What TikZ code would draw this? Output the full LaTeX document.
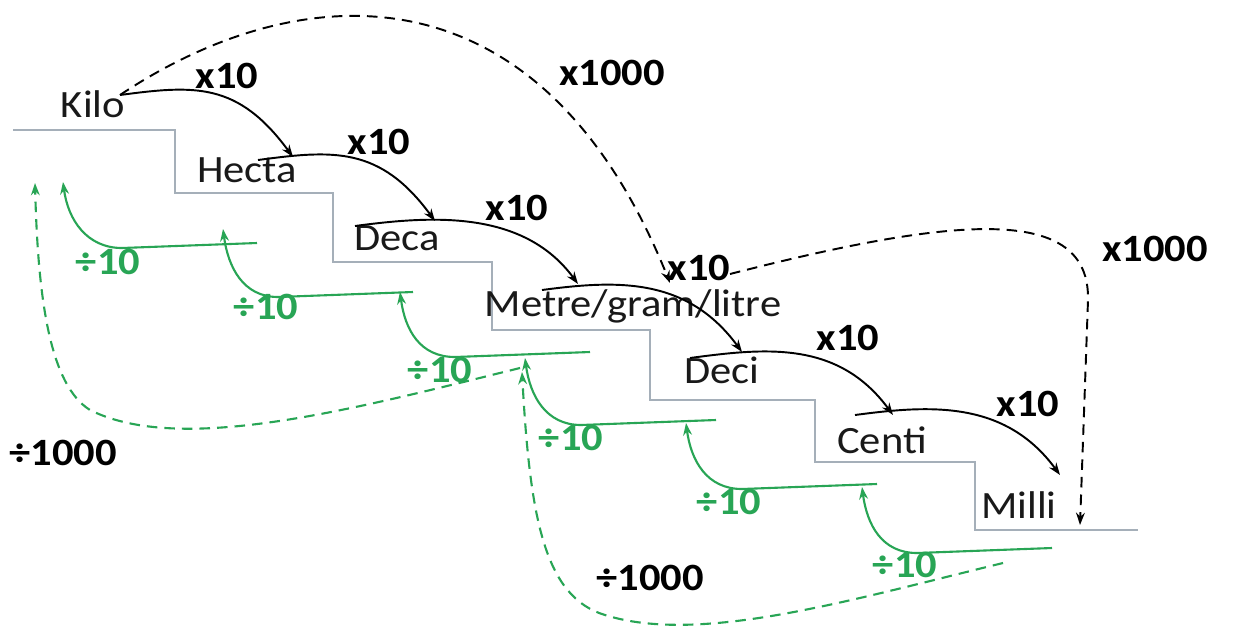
\documentclass[tikz,border=0pt]{standalone}
\usepackage{fontspec}
\setmainfont{Carlito}[FakeStretch=1.1]
\usetikzlibrary{arrows.meta,positioning,calc}
\definecolor{grn}{RGB}{40,165,85}
\definecolor{stairc}{RGB}{165,175,185}

\begin{document}
\begin{tikzpicture}[x=0.02cm,y=-0.02cm,
    unit/.style={font=\fontsize{22}{24}\selectfont, text=black!90},
    mul/.style={font=\fontsize{22}{24}\selectfont\bfseries},
    dvd/.style={mul, text=grn},
    tenarc/.style={to path={.. controls +(75,-10) and +(-55,-75) .. (\tikztotarget)}},
    tenback/.style={to path={-- ++(-135,5) .. controls +(-35,0) and +(5,38) .. (\tikztotarget)}},
    blk/.style={draw=black, line width=1.1pt, -{Stealth[length=7pt,width=5pt]}},
    blkd/.style={blk, dash pattern=on 6pt off 4pt},
    grl/.style={draw=grn, line width=1.2pt, -{Stealth[length=7pt,width=5pt]}},
    grd/.style={grl, dash pattern=on 6pt off 4pt}]
    \useasboundingbox[fill=white] (0,0) rectangle (1237,633);

    % stairs
    \draw[stairc, line width=0.9pt] (13,130) -| (175,193) -| (333,262) -| (492,330)
        -| (650,400) -| (815,462) -| (975,530) -- (1138,530);

    % units
    \node[unit] (Kilo) at (93,104) {Kilo};
    \node[unit] (Hecta) at (247,170) {Hecta};
    \node[unit] (Deca) at (397,238) {Deca};
    \node[unit] (Metre) at (633,306) {Metre/gram/litre};
    \node[unit] (Deci) at (722,370) {Deci};
    \node[unit] (Centi) at (882,440) {Centi};
    \node[unit] (Milli) at (1019,505) {Milli};

    % labels
    \node[mul] (x1) at (227,76) {x10};
    \node[mul] (x2) at (379,142) {x10};
    \node[mul] (x3) at (517,208) {x10};
    \node[mul] (x4) at (699,268) {x10};
    \node[mul] (x5) at (848,338) {x10};
    \node[mul] (x6) at (1028,404) {x10};
    \node[mul] (xk1) at (612,73) {x1000};
    \node[mul] (xk2) at (1155,249) {x1000};
    \node[dvd] (q1) at (108,262) {÷10};
    \node[dvd] (q2) at (266,307) {÷10};
    \node[dvd] (q3) at (440,370) {÷10};
    \node[dvd] (q4) at (571,438) {÷10};
    \node[dvd] (q5) at (729,502) {÷10};
    \node[dvd] (q6) at (905,565) {÷10};
    \node[mul] (qk1) at (63,453) {÷1000};
    \node[mul] (qk2) at (650,578) {÷1000};

    % arc ends
    \coordinate (k1) at (120,95);
    \coordinate (h0) at (293,157); \coordinate (h1) at (258,160);
    \coordinate (d0) at (435,221); \coordinate (d1) at (355,226);
    \coordinate (m0) at (578,284); \coordinate (m1) at (542,290); \coordinate (m2) at (670,283);
    \coordinate (e0) at (742,352); \coordinate (e1) at (690,358);
    \coordinate (c0) at (893,415); \coordinate (c1) at (855,415);
    \coordinate (l0) at (1060,475); \coordinate (l2) at (1080,525);
    \coordinate (s0) at (730,274); \coordinate (s1) at (1088,300);

    \draw[blk] (k1) to[tenarc] (h0);
    \draw[blk] (h1) to[tenarc] (d0);
    \draw[blk] (d1) to[tenarc] (m0);
    \draw[blk] (m1) to[tenarc] (e0);
    \draw[blk] (e1) to[tenarc] (c0);
    \draw[blk] (c1) to[tenarc] (l0);
    \draw[blkd] (k1) .. controls (300,-25) and (540,-40) .. (m2);
    \draw[blkd] (s0) .. controls (960,215) and (1090,205) .. (s1) -- (l2);

    % green ends
    \coordinate (a1r) at (257,243); \coordinate (a1t) at (63,182);
    \coordinate (a2r) at (413,292); \coordinate (a2t) at (223,229);
    \coordinate (a3r) at (590,352); \coordinate (a3t) at (400,292);
    \coordinate (a4r) at (716,420); \coordinate (a4t) at (525,358);
    \coordinate (a5r) at (877,484); \coordinate (a5t) at (686,423);
    \coordinate (a6r) at (1052,548); \coordinate (a6t) at (862,487);
    \coordinate (g0) at (520,368); \coordinate (g1) at (35,183); \coordinate (g2) at (90,410);
    \coordinate (r0) at (1003,563); \coordinate (r1) at (522,372); \coordinate (r2) at (605,615);

    \draw[grl] (a1r) to[tenback] (a1t);
    \draw[grl] (a2r) to[tenback] (a2t);
    \draw[grl] (a3r) to[tenback] (a3t);
    \draw[grl] (a4r) to[tenback] (a4t);
    \draw[grl] (a5r) to[tenback] (a5t);
    \draw[grl] (a6r) to[tenback] (a6t);
    \draw[grd] (g0) .. controls (350,410) and (180,455) .. (g2) .. controls (50,385) and (38,300) .. (g1);
    \draw[grd] (r0) .. controls (850,600) and (700,645) .. (r2) .. controls (545,597) and (530,520) .. (r1);
\end{tikzpicture}
\end{document}
